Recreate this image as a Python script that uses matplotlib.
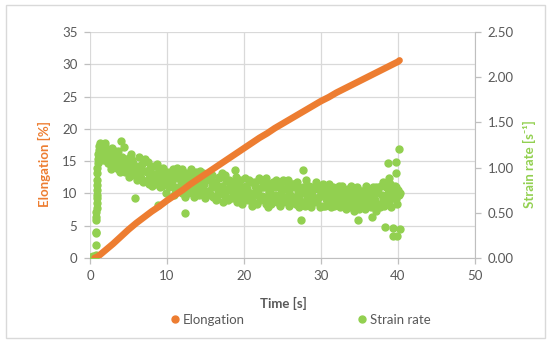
import numpy as np
import matplotlib
matplotlib.use("Agg")
import matplotlib.pyplot as plt
from matplotlib.patches import Rectangle
from matplotlib.lines import Line2D

plt.rcParams['font.family'] = ['Lato', 'DejaVu Sans']

# ---------------- data ----------------
# Elongation [%] vs time [s]
elong_time = [0.6, 1, 2, 3, 4, 5, 6, 7, 8, 9, 10, 11, 12, 13, 14, 15, 16, 17, 18, 19, 20,
              21, 22, 23, 24, 25, 26, 27, 28, 29, 30, 31, 32, 33, 34, 35, 36, 37, 38, 39, 40, 40.2]
elongation = [0.0, 0.2, 1.2, 2.2, 3.3, 4.4, 5.4, 6.3, 7.2, 8.0, 8.9, 9.7, 10.5, 11.4, 12.2, 13.0,
              13.8, 14.6, 15.4, 16.2, 17.0, 17.8, 18.6, 19.3, 20.1, 20.8, 21.5, 22.2, 22.9, 23.6,
              24.3, 24.9, 25.6, 26.2, 26.8, 27.4, 28.0, 28.6, 29.2, 29.8, 30.4, 30.6]

# Strain rate [1/s]: start-up ramp (irregular samples)
ramp_time = [0.0, 0.1, 0.2, 0.3, 0.4, 0.5, 0.6, 0.72, 0.74, 0.76, 0.78, 0.8, 0.82, 0.84, 0.85,
             0.86, 0.87, 0.88, 0.89, 0.9, 0.92, 0.94, 0.97, 1.0, 1.05, 1.1, 1.15, 1.2, 1.3]
ramp_rate = [0.0, 0.01, 0.0, 0.01, 0.02, 0.0, 0.01, 0.03, 0.14, 0.28, 0.29, 0.42, 0.45, 0.51,
             0.55, 0.61, 0.66, 0.70, 0.75, 0.81, 0.86, 0.94, 1.0, 1.05, 1.1, 1.15, 1.2, 1.24, 1.27]

# Strain rate main record: channel A sampled every 0.2 s from 1.4 s
sample_step = 0.2
start_a = 1.4
strain_rate_a = [
    1.25, 1.22, 1.15, 1.27, 1.12,
    1.05, 1.18, 1.10, 1.20, 1.02,
    1.14, 0.98, 1.10, 1.29, 1.03,
    1.23, 0.95, 1.08, 0.99, 1.12,
    0.92, 1.05, 0.66, 1.00, 0.90,
    1.02, 0.88, 0.97, 1.08, 0.85,
    0.95, 0.82, 1.00, 0.90, 0.86,
    0.93, 0.84, 0.59, 0.97, 0.85,
    0.80, 0.92, 0.86, 0.95, 0.78,
    0.90, 0.82, 0.98, 0.76, 0.88,
    0.79, 0.95, 0.85, 0.72, 0.90,
    0.50, 0.86, 0.78, 0.92, 0.80,
    0.85, 0.74, 0.95, 0.80, 0.70,
    0.88, 0.76, 0.82, 0.70, 0.90,
    0.74, 0.86, 0.80, 0.68, 0.84,
    0.82, 0.72, 0.90, 0.75, 0.80,
    0.70, 0.85, 0.76, 0.66, 0.83,
    0.80, 0.72, 0.97, 0.74, 0.68,
    0.82, 0.70, 0.78, 0.64, 0.80,
    0.76, 0.68, 0.84, 0.72, 0.62,
    0.80, 0.70, 0.75, 0.88, 0.66,
    0.69, 0.78, 0.60, 0.82, 0.72,
    0.75, 0.66, 0.84, 0.70, 0.78,
    0.64, 0.80, 0.72, 0.86, 0.68,
    0.76, 0.62, 0.74, 0.70, 0.82,
    0.68, 0.78, 0.60, 0.73, 0.66,
    0.42, 0.97, 0.72, 0.80, 0.65,
    0.74, 0.62, 0.70, 0.78, 0.66,
    0.64, 0.76, 0.68, 0.72, 0.58,
    0.72, 0.65, 0.80, 0.62, 0.70,
    0.66, 0.74, 0.60, 0.70, 0.78,
    0.70, 0.62, 0.76, 0.66, 0.72,
    0.60, 0.72, 0.68, 0.58, 0.74,
    0.70, 0.64, 0.42, 0.68, 0.74,
    0.62, 0.70, 0.66, 0.76, 0.60,
    0.68, 0.45, 0.72, 0.64, 0.78,
    0.72, 0.60, 0.80, 0.66, 0.58,
    0.78, 0.70, 0.62, 0.82, 0.68,
    0.72, 0.80, 0.65, 0.75, 0.72,
]
# channel B, interleaved, every 0.2 s from 1.5 s
start_b = 1.5
strain_rate_b = [
    1.20, 1.08, 1.24, 1.16, 1.05,
    1.14, 0.98, 1.22, 1.08, 1.16,
    1.02, 1.18, 0.95, 1.12, 1.06,
    0.96, 1.10, 1.02, 0.90, 1.15,
    1.08, 0.94, 1.01, 0.86, 1.12,
    0.92, 1.04, 0.84, 1.10, 0.96,
    1.06, 0.88, 0.94, 0.80, 1.02,
    0.82, 1.04, 0.90, 0.78, 0.96,
    1.00, 0.84, 0.72, 0.94, 0.88,
    0.80, 0.96, 0.70, 0.92, 1.00,
    0.90, 0.74, 0.98, 0.84, 0.68,
    0.94, 0.72, 0.88, 0.98, 0.76,
    0.68, 0.92, 0.84, 0.76, 0.96,
    0.82, 0.94, 0.66, 0.86, 0.74,
    0.90, 0.70, 0.92, 0.78, 0.64,
    0.68, 0.88, 0.72, 0.94, 0.62,
    0.92, 0.74, 0.64, 0.86, 0.78,
    0.66, 0.84, 0.90, 0.62, 0.78,
    0.86, 0.60, 0.76, 0.88, 0.70,
    0.64, 0.86, 0.70, 0.58, 0.84,
    0.72, 0.60, 0.86, 0.64, 0.78,
    0.84, 0.66, 0.88, 0.56, 0.74,
    0.60, 0.82, 0.66, 0.86, 0.62,
    0.80, 0.58, 0.76, 0.62, 0.84,
    0.66, 0.86, 0.58, 0.80, 0.64,
    0.82, 0.60, 0.84, 0.56, 0.76,
    0.62, 0.78, 0.58, 0.86, 0.68,
    0.80, 0.56, 0.76, 0.62, 0.84,
    0.62, 0.80, 0.56, 0.74, 0.82,
    0.58, 0.76, 0.64, 0.82, 0.56,
    0.78, 0.58, 0.74, 0.62, 0.80,
    0.56, 0.80, 0.60, 0.74, 0.54,
    0.76, 0.56, 0.80, 0.64, 0.52,
    0.58, 0.78, 0.54, 0.72, 0.60,
    0.74, 0.54, 0.80, 0.58, 0.70,
    0.56, 0.78, 0.60, 0.52, 0.74,
    0.78, 0.56, 0.70, 0.84, 0.62,
    0.60, 0.76, 0.82, 0.56, 0.74,
    0.66, 0.78, 0.60, 0.70,
]
# Strain rate: scattered end-of-test points
end_time = [38.7, 38.8, 39.8, 39.8, 40.1, 38.3, 39.3, 40.2, 39.4, 39.9]
end_rate = [1.05, 0.89, 1.06, 0.94, 1.21, 0.34, 0.33, 0.32, 0.24, 0.24]

x_ticks = [0, 10, 20, 30, 40, 50]
left_ticks = [0, 5, 10, 15, 20, 25, 30, 35]
right_ticks = [0.0, 0.5, 1.0, 1.5, 2.0, 2.5]

# ---------------- styling ----------------
ORANGE = '#ED7D31'
GREEN = '#92D050'
TICK = '#595959'
GRID = '#D9D9D9'
AXIS = '#BFBFBF'
FS = 9.5

fig = plt.figure(figsize=(5.5, 3.43), dpi=100)
fig.patches.append(Rectangle((6/550, 1-338/343), 539/550, 333/343, transform=fig.transFigure,
                             fill=False, edgecolor='#D9D9D9', lw=1.0))

rect = [90/550, 1-258/343, 385/550, 226/343]
ax = fig.add_axes(rect)                 # grid + left axis
ax2 = ax.twinx()                        # strain rate (right axis)
ax3 = fig.add_axes(rect, sharex=ax, sharey=ax)   # elongation drawn on top
ax3.set_zorder(ax2.get_zorder() + 1)
ax3.patch.set_visible(False)
ax3.axis('off')

t_a = start_a + sample_step * np.arange(len(strain_rate_a))
t_b = start_b + sample_step * np.arange(len(strain_rate_b))
all_t = np.concatenate([ramp_time, t_a, t_b, end_time])
all_r = np.concatenate([ramp_rate, strain_rate_a, strain_rate_b, end_rate])

ax2.plot(all_t, all_r, linestyle='none', marker='o', ms=5.0, color=GREEN, mec=GREEN, zorder=3)
ax3.plot(elong_time, elongation, color=ORANGE, lw=4.8, solid_capstyle='round', zorder=3)

ax.set_xlim(0, 50)
ax.set_ylim(0, 35)
ax2.set_ylim(0, 2.5)
ax.set_xticks(x_ticks)
ax.set_yticks(left_ticks)
ax2.set_yticks(right_ticks)
ax2.set_yticklabels([f"{v:.2f}" for v in right_ticks])

ax.grid(True, color=GRID, lw=0.9)
ax.set_axisbelow(True)
for a in (ax, ax2):
    for s in a.spines.values():
        s.set_visible(False)
ax.spines['bottom'].set_visible(True)
ax.spines['bottom'].set_color(AXIS)
ax2.spines['right'].set_visible(True)
ax2.spines['right'].set_color(AXIS)

ax.tick_params(axis='x', colors=AXIS, labelcolor=TICK, labelsize=FS, length=4, width=0.9, pad=5)
ax.tick_params(axis='y', colors=AXIS, labelcolor=TICK, labelsize=FS, length=4, width=0.9, pad=5)
ax2.tick_params(axis='y', colors=AXIS, labelcolor=TICK, labelsize=FS, length=4, width=0.9, pad=5)

ax.set_xlabel('Time [s]', fontsize=FS, fontweight='bold', color=TICK)
ax.xaxis.set_label_coords(0.503, -0.173)
ax.set_ylabel('Elongation [%]', fontsize=FS, fontweight='bold', color=ORANGE)
ax.yaxis.set_label_coords(-0.101, 0.416)
ax2.set_ylabel('Strain rate [s⁻¹]', fontsize=FS, fontweight='bold', color=GREEN, rotation=90)
ax2.yaxis.set_label_coords(1.125, 0.416)

handles = [Line2D([], [], linestyle='none', marker='o', ms=5, color=ORANGE),
           Line2D([], [], linestyle='none', marker='o', ms=5, color=GREEN)]
fig.legend(handles, ['Elongation', 'Strain rate'], loc='center', bbox_to_anchor=(0.547, 1-320/343),
           ncol=2, frameon=False, fontsize=FS, labelcolor=TICK, handlelength=0.6,
           handletextpad=0.3, columnspacing=8.6)

fig.savefig('out.png', dpi=100)
